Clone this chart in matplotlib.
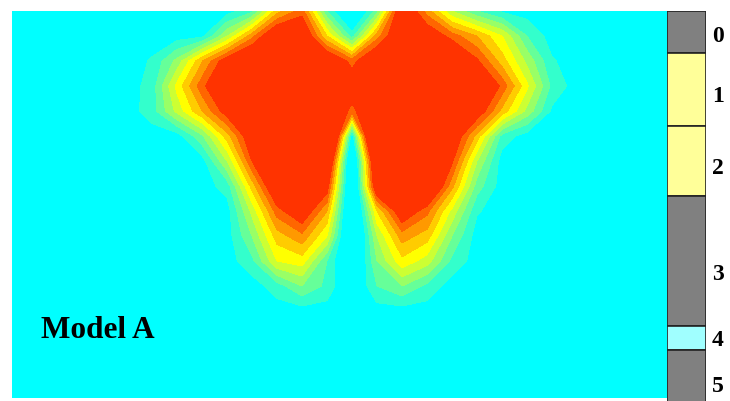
import numpy as np
import matplotlib.pyplot as plt

# grid nodes (distance along section, depth), same units as the plot window
dist = np.arange(115, 566, 25)
depth = np.arange(0, 301, 25)

# estimated field (band index: 0 = background ... >=9.5 = core)
field = np.array([
    [0, 0, 0, 0, 0, 1.2, 6, 8.0, 1.5, -2, 2, 10.5, 7, 3.5, 1.5, 0.3, 0, 0, 0],
    [0, 0, 0, 0.2, 3.4, 7.1, 10.5, 10.5, 5.5, 1, 7, 10.5, 9.8, 8, 6.5, 4.5, 1.5, 0, 0],
    [0, 0.6, 2.8, 6.4, 9.4, 11, 12, 12, 10.5, 8, 10.5, 12, 12, 11, 8.7, 6, 3.2, 0.6, 0],
    [0, 0.9, 4.8, 8.1, 11, 12, 12, 12, 11.5, 9.6, 11.5, 12, 12, 12, 11, 8.2, 4.7, 1.2, 0],
    [0, 1.0, 3.8, 6.5, 9.2, 11.5, 12, 12, 11, 8, 11, 12, 12, 12, 9.6, 6.2, 3.2, 0.3, 0],
    [0, 0, 0, 2.3, 6, 9.8, 12, 14, 16, -0.4, 16, 14, 12, 10, 6.1, 1.1, 0, 0, 0],
    [0, 0, 0, 0, 3.5, 8.5, 11, 12, 12, -3, 12, 12, 11.5, 8.7, 3.5, 0, 0, 0, 0],
    [0, 0, 0, 0, 0.9, 5.9, 10.5, 12, 9.3, -3, 10.5, 12, 11.5, 6.8, 2, 0, 0, 0, 0],
    [0, 0, 0, 0, 0, 3.8, 8, 9.8, 6.5, -3, 5.5, 9.8, 7.8, 4.2, 0.6, 0, 0, 0, 0],
    [0, 0, 0, 0, 0, 2.5, 6, 7.2, 4.5, -3, 3.5, 7, 6, 2.5, 0, 0, 0, 0, 0],
    [0, 0, 0, 0, 0, 1.2, 4.5, 5, 1.5, -2, 2.5, 5.2, 4, 1.2, 0, 0, 0, 0, 0],
    [0, 0, 0, 0, 0, 0, 1, 2.5, 1.2, -1, 1.5, 2.5, 1.2, 0, 0, 0, 0, 0, 0],
    [0, 0, 0, 0, 0, 0, 0, 0, 0, 0, 0, 0, 0, 0, 0, 0, 0, 0, 0],
])

levels = [-50, 0.5, 1.5, 2.5, 3.5, 4.5, 5.5, 6.5, 7.5, 8.5, 9.5, 50]
band_colors = ['#00FFFF', '#33FFCC', '#66FF99', '#99FF66', '#CCFF33', '#FFFF00',
               '#FFCC00', '#FF9900', '#FF6600', '#FF3300', '#FF3300']

# column on the right
layer_top = [0, 42, 115, 185, 315, 339]
layer_bottom = [42, 115, 185, 315, 339, 400]
layer_colors = ['#808080', '#FFFF99', '#FFFF99', '#808080', '#A0FFFF', '#808080']
layer_labels = ['0', '1', '2', '3', '4', '5']

fig = plt.figure(figsize=(7.3, 4.01), dpi=100)

ax = fig.add_axes([12/730, 3/401, 655/730, 387/401])
ax.set_facecolor('#00FFFF')
ax.contourf(dist, depth, field, levels=levels, colors=band_colors)
ax.set_xlim(0, 655)
ax.set_ylim(387, 0)
ax.set_xticks([])
ax.set_yticks([])
for s in ax.spines.values():
    s.set_visible(False)
ax.text(29, 319, 'Model A', family='Liberation Serif', weight='bold',
        fontsize=22.5, va='center', ha='left')

ax2 = fig.add_axes([667/730, 0, 39/730, 390/401])
thick = np.array(layer_bottom) - np.array(layer_top)
ax2.bar(0, thick, bottom=layer_top, width=1, color=layer_colors,
        edgecolor='#222222', linewidth=1.2)
ax2.set_xlim(-0.5, 0.5)
ax2.set_ylim(390, 0)
ax2.set_xticks([])
ax2.set_yticks([])
for s in ax2.spines.values():
    s.set_visible(False)
ax2.patch.set_alpha(0)
for t, b, lab in zip(layer_top, layer_bottom, layer_labels):
    ax2.text(1.15, t + 0.6*(b - t), lab, transform=ax2.get_yaxis_transform(),
             family='Liberation Serif', weight='bold', fontsize=17,
             va='center', ha='left', clip_on=False)

fig.savefig('out.png', dpi=100)
